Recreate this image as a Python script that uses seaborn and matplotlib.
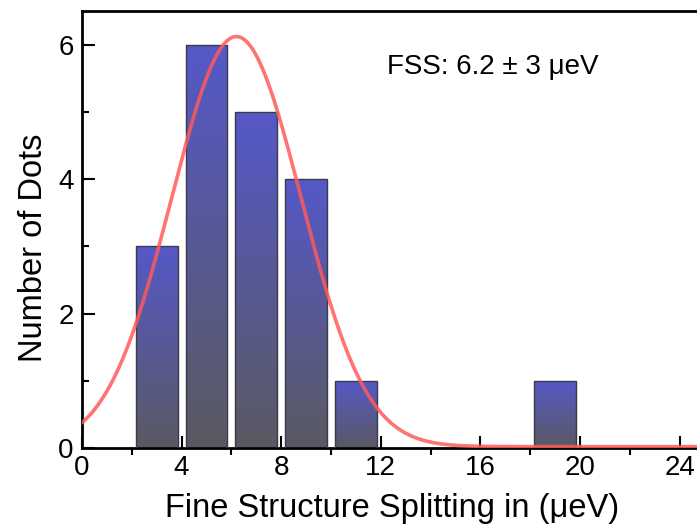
import numpy as np
import pandas as pd
import matplotlib
matplotlib.use("Agg")
import matplotlib.pyplot as plt
from matplotlib.colors import LinearSegmentedColormap
from matplotlib.ticker import MultipleLocator
import seaborn as sns

# Histogram of fine structure splitting (bin centres, counts per 2 ueV bin)
bin_centers = [3, 5, 7, 9, 11, 19]
counts = [3, 6, 5, 4, 1, 1]

# Gaussian fit parameters
fit_center = 6.2
fit_sigma = 2.6
fit_amplitude = 6.1
fit_offset = 0.02

x_ticks = [0, 4, 8, 12, 16, 20, 24]
y_ticks = [0, 2, 4, 6]

sns.set_theme(style="ticks")
plt.rcParams["font.family"] = ["Liberation Sans", "DejaVu Sans"]
plt.rcParams["text.color"] = "black"
plt.rcParams["axes.labelcolor"] = "black"

fig = plt.figure(figsize=(6.97, 5.29), dpi=100)
ax = fig.add_axes([82 / 697, (529 - 448) / 529, 625 / 697, 437 / 529])

df = pd.DataFrame({"fss": bin_centers, "count": counts})
sns.barplot(data=df, x="fss", y="count", native_scale=True, width=0.84,
            ax=ax, color="#5558c8", edgecolor="#3a3a48", linewidth=1.0,
            zorder=2)

# per-bar vertical gradient: blue at the top, grey at the bottom
cmap = LinearSegmentedColormap.from_list("bar", ["#5a5a62", "#5558c8"])
grad = np.linspace(0, 1, 256).reshape(-1, 1)
for patch in ax.patches:
    x0, y0 = patch.get_x(), patch.get_y()
    w, h = patch.get_width(), patch.get_height()
    im = ax.imshow(grad, cmap=cmap, origin="lower", aspect="auto",
                   extent=[x0, x0 + w, y0, y0 + h], zorder=2.5)
    im.set_clip_path(patch)
    patch.set_facecolor("none")
    patch.set_zorder(3)

# Gaussian fit curve
xs = np.linspace(0, 25, 600)
ys = fit_offset + fit_amplitude * np.exp(-(xs - fit_center) ** 2 / (2 * fit_sigma ** 2))
sns.lineplot(x=xs, y=ys, ax=ax, color="#ff5a5a", alpha=0.85, linewidth=2.6,
             zorder=4)

ax.set_xlim(0, 25.1)
ax.set_ylim(0, 6.5)
ax.set_xticks(x_ticks)
ax.set_yticks(y_ticks)
ax.xaxis.set_minor_locator(MultipleLocator(2))
ax.yaxis.set_minor_locator(MultipleLocator(1))
ax.tick_params(axis="x", which="major", direction="in", length=9, width=1.5,
               labelsize=20, pad=5, colors="black")
ax.tick_params(axis="x", which="minor", direction="out", length=5, width=1.5,
               colors="black")
ax.tick_params(axis="y", which="major", direction="in", length=9, width=1.5,
               labelsize=20, pad=6, colors="black")
ax.tick_params(axis="y", which="minor", direction="in", length=5, width=1.5,
               colors="black")
for side in ["left", "bottom", "top"]:
    ax.spines[side].set_linewidth(2)
    ax.spines[side].set_color("black")
ax.spines["right"].set_visible(False)

ax.set_xlabel("Fine Structure Splitting in (\u03bceV)", fontsize=23.5,
              color="black")
ax.set_ylabel("Number of Dots", fontsize=23.5, color="black")
ax.xaxis.set_label_coords(0.496, -0.104)
ax.xaxis.label.set_va("top")
ax.yaxis.set_label_coords(-0.052, 0.458)

ax.text(12.25, 5.67, "FSS: 6.2 \u00b1 3 \u03bceV", fontsize=20, ha="left",
        va="center", color="black")

fig.savefig("out.png", dpi=100)
